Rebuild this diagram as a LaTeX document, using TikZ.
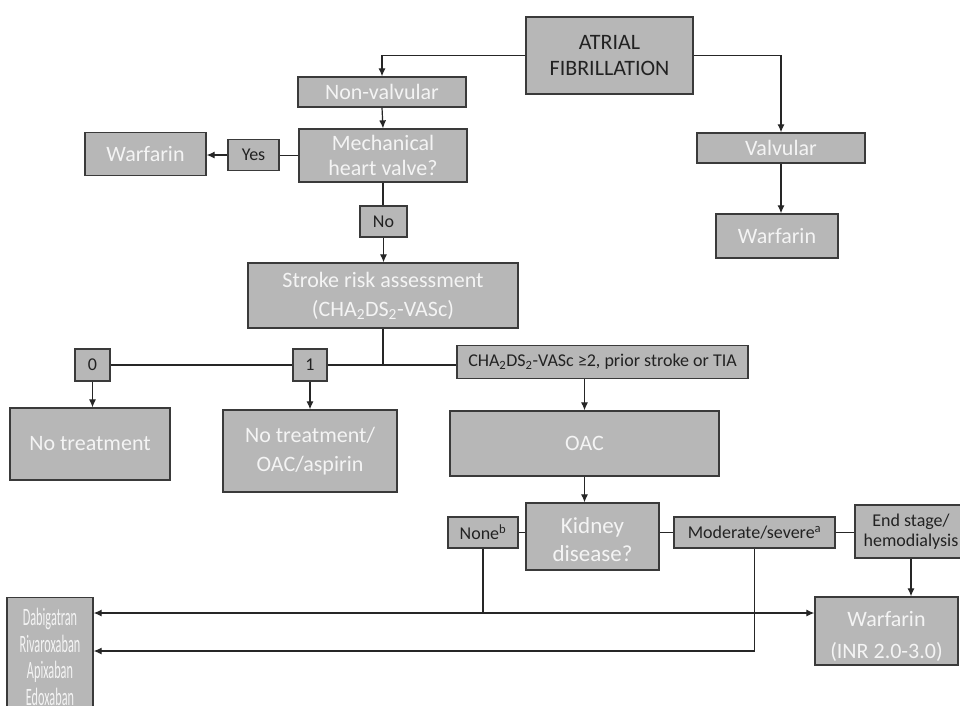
\documentclass[tikz,border=0pt]{standalone}
\usepackage{fontspec}
\setmainfont{Carlito}
\newfontfamily\narrowfont[FakeStretch=0.49]{Carlito}
\usepackage{tikz}
\usetikzlibrary{arrows.meta,calc}
\definecolor{boxfill}{HTML}{B7B7B7}
\definecolor{boxline}{HTML}{3A3A3A}
\definecolor{boxtext}{HTML}{F4F4F4}
\definecolor{darktext}{HTML}{222222}

\begin{document}
\begin{tikzpicture}[
  x=1pt, y=-1pt,
  box/.style={draw=boxline, fill=boxfill, line width=1.3pt, align=center,
    inner sep=2pt, text=boxtext, font=\fontsize{22}{25}\selectfont},
  tag/.style={box, text=darktext, font=\fontsize{18}{20}\selectfont},
  ar/.style={-{Latex[length=8pt,width=7pt]}, line width=1.2pt, draw=black!85},
  ln/.style={line width=1.2pt, draw=black!85}
]
  \useasboundingbox (0,0) rectangle (960,705);
  \fill[white] (0,0) rectangle (960,705);
  % top of the tree
  \node[box, text=darktext, minimum width=167pt, minimum height=77pt,
    font=\fontsize{22}{26}\selectfont] (af) at (609.5,55.5)
    {ATRIAL\\FIBRILLATION};
  \node[box, minimum width=168pt, minimum height=30pt] (nonv) at (382,92) {Non-valvular};
  \node[box, minimum width=168pt, minimum height=53pt] (mech) at (383,155.5)
    {Mechanical\\heart valve?};
  \node[box, minimum width=168pt, minimum height=30pt] (valv) at (781,148) {Valvular};
  \node[box, minimum width=122pt, minimum height=44pt] (warfb) at (777,236) {Warfarin};
  \draw[ar] (af.west) -| (nonv.north);
  \draw[ar] (af.east) -| (valv.north);
  \draw[ar] (nonv.south) -- (mech.north);
  \draw[ar] (valv.south) -- (valv.south |- warfb.north);
  % mechanical valve
  \node[tag, minimum width=51pt, minimum height=31pt] (yes) at (253.5,155) {Yes};
  \node[box, minimum width=121pt, minimum height=43pt] (warfa) at (145.5,154) {Warfarin};
  \node[tag, minimum width=47pt, minimum height=31pt] (no) at (383.5,221.5) {No};
  \draw[ln] (mech.west) -- (mech.west -| yes.east);
  \draw[ar] (yes.west) -- (yes.west -| warfa.east);
  \draw[ln] (mech.south) -- (mech.south |- no.north);
  % stroke risk
  \node[box, minimum width=270pt, minimum height=65pt, font=\fontsize{22}{29}\selectfont]
    (stroke) at (383,295.5)
    {Stroke risk assessment\\(CHA\textsubscript{2}DS\textsubscript{2}-VASc)};
  \draw[ar] (no.south) -- (no.south |- stroke.north);
  \node[tag, minimum width=35pt, minimum height=32pt] (zero) at (92.5,365) {0};
  \node[tag, minimum width=34pt, minimum height=32pt] (one) at (310,365) {1};
  \node[tag, minimum width=291pt, minimum height=33pt] (cha) at (602.5,362)
    {CHA\textsubscript{2}DS\textsubscript{2}-VASc ≥2, prior stroke or TIA};
  \coordinate (sj) at (stroke.south |- one.east);
  \draw[ln] (stroke.south) -- (sj);
  \draw[ln] (zero.east) -- (one.west);
  \draw[ln] (one.east) -- (one.east -| cha.west);
  \node[box, minimum width=160pt, minimum height=72pt] (notreat) at (90,444) {No treatment};
  \node[box, minimum width=174pt, minimum height=82pt, font=\fontsize{22}{29}\selectfont]
    (notoac) at (310,451) {No treatment/\\OAC/aspirin};
  \node[box, minimum width=269pt, minimum height=65pt] (oac) at (584.5,443.5) {OAC};
  \draw[ar] (zero.south) -- (zero.south |- notreat.north);
  \draw[ar] (one.south) -- (notoac.north);
  \draw[ar] (oac.north |- cha.south) -- (oac.north);
  % kidney disease
  \node[box, minimum width=133pt, minimum height=67pt, font=\fontsize{23}{28}\selectfont]
    (kid) at (592.5,536.5) {\rule{0pt}{22pt}Kidney\\disease?};
  \draw[ar] (oac.south) -- (oac.south |- kid.north);
  \node[tag, minimum width=70pt, minimum height=31pt] (none) at (483,532.5) {None\textsuperscript{b}};
  \node[tag, minimum width=161pt, minimum height=31pt] (mod) at (754.5,532.5) {Moderate/severe\textsuperscript{a}};
  \node[tag, minimum width=112pt, minimum height=53pt] (endst) at (911,531.5)
    {End stage/\\hemodialysis};
  \draw[ln] (none.east) -- (none.east -| kid.west);
  \draw[ln] (mod.west -| kid.east) -- (mod.west);
  \draw[ln] (mod.east) -- (mod.east -| endst.west);
  % treatment choice
  \node[box, minimum width=143pt, minimum height=68pt, font=\fontsize{22}{32}\selectfont]
    (warfinr) at (886.5,631) {\rule{0pt}{26pt}Warfarin\\(INR 2.0-3.0)};
  \node[box, minimum width=86pt, anchor=north,
    font=\narrowfont\fontsize{25}{26.5}\selectfont] (doac) at (50,597)
    {\rule{0pt}{26pt}Dabigatran\\Rivaroxaban\\Apixaban\\Edoxaban};
  \coordinate (nj) at (none.south |- 0,613);
  \coordinate (mj) at (mod.south |- 0,651);
  \draw[ln] (none.south) -- (nj);
  \draw[ar] (nj) -- (nj -| doac.east);
  \draw[ar] (nj) -- (nj -| warfinr.west);
  \draw[ln] (mod.south) -- (mj);
  \draw[ar] (mj) -- (mj -| doac.east);
  \draw[ar] (endst.south) -- (endst.south |- warfinr.north);
\end{tikzpicture}
\end{document}
